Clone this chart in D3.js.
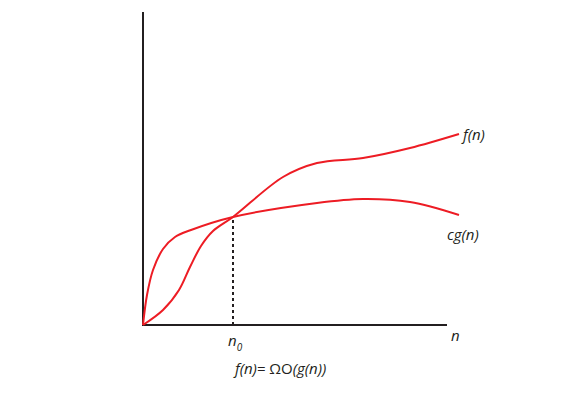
<!DOCTYPE html>
<html>
<head>
<meta charset="utf-8">
<script src="https://cdn.jsdelivr.net/npm/d3@7"></script>
<style>
  body { margin: 0; background: #fff; }
  text { font-family: "Open Sans", "DejaVu Sans", sans-serif; fill: #231f20; }
</style>
</head>
<body>
<div id="chart"></div>
<script>
// curve values (n, value) in chart units
var fPoints = [[0,0],[20,15],[36,35],[47,58],[58,79],[70,94],[90,108],[140,148],[174,162],[220,167],[267,177],[316,191]];
var cgPoints = [[0,0],[4,30],[10,55],[20,76],[32,88],[48,95],[90,108],[174,122],[220,126],[267,123],[316,110]];
var n0 = [90, 108];
var curveLabels = ["f(n)", "cg(n)"];

var width = 583, height = 397;
var svg = d3.select("#chart").append("svg")
    .attr("width", width)
    .attr("height", height);

var x = d3.scaleLinear().domain([0, 304]).range([143, 447]);
var y = d3.scaleLinear().domain([0, 313]).range([325, 12]);

// axes (plain lines, no ticks)
svg.append("line")
    .attr("x1", x(0)).attr("y1", y(0))
    .attr("x2", x(0)).attr("y2", y(313))
    .attr("stroke", "#231f20").attr("stroke-width", 2);
svg.append("line")
    .attr("x1", x(0) - 1).attr("y1", y(0))
    .attr("x2", x(304)).attr("y2", y(0))
    .attr("stroke", "#231f20").attr("stroke-width", 2);

// dashed n0 marker
svg.append("line")
    .attr("x1", x(n0[0])).attr("y1", y(0))
    .attr("x2", x(n0[0])).attr("y2", y(n0[1]))
    .attr("stroke", "#231f20").attr("stroke-width", 2)
    .attr("stroke-dasharray", "3,3");

var line = d3.line()
    .x(function(d) { return x(d[0]); })
    .y(function(d) { return y(d[1]); })
    .curve(d3.curveCatmullRom.alpha(0.5));

[fPoints, cgPoints].forEach(function(pts) {
    svg.append("path")
        .attr("d", line(pts))
        .attr("fill", "none")
        .attr("stroke", "#ed1c24")
        .attr("stroke-width", 2);
});

// labels
svg.append("text").attr("x", 463).attr("y", 140)
    .attr("font-size", 15).attr("font-style", "italic").text(curveLabels[0]);
svg.append("text").attr("x", 447).attr("y", 240)
    .attr("font-size", 15).attr("font-style", "italic").text(curveLabels[1]);
svg.append("text").attr("x", 451).attr("y", 341)
    .attr("font-size", 15).attr("font-style", "italic").text("n");

var n0Label = svg.append("text").attr("x", 228).attr("y", 346)
    .attr("font-size", 15).attr("font-style", "italic");
n0Label.append("tspan").text("n");
n0Label.append("tspan").attr("dy", 5).attr("font-size", 10).text("0");

var formula = svg.append("text").attr("x", 235).attr("y", 374).attr("font-size", 15);
formula.append("tspan").attr("font-style", "italic").text("f(n)= ");
formula.append("tspan").text("ΩO");
formula.append("tspan").attr("font-style", "italic").text("(g(n))");
</script>
</body>
</html>
